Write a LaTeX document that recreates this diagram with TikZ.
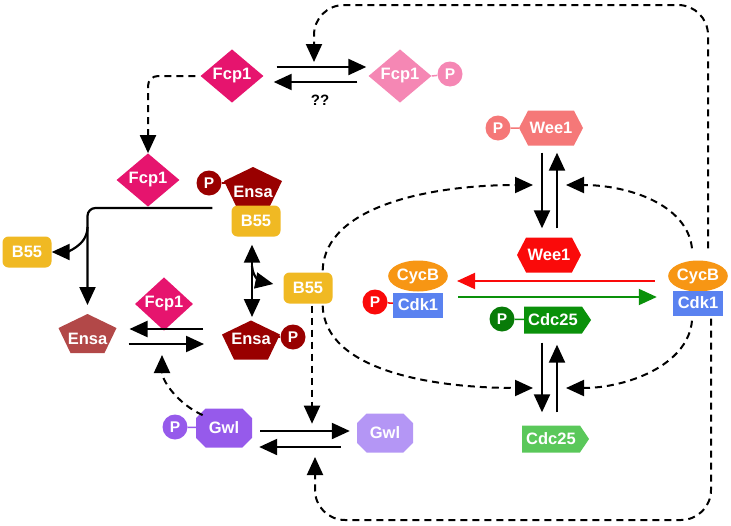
\documentclass[tikz,border=0pt]{standalone}
\usepackage{fontspec}
\setmainfont{Liberation Sans}
\usepackage{xcolor}
\usepackage{tikz}
\definecolor{fcpdark} {RGB} {230, 20, 110}
\definecolor{fcplight} {RGB} {245, 135, 180}
\definecolor{ensadark} {RGB} {153, 0, 0}
\definecolor{ensalight} {RGB} {178, 72, 72}
\definecolor{bfive} {RGB} {240, 185, 35}
\definecolor{weelight} {RGB} {245, 120, 120}
\definecolor{weedark} {RGB} {250, 10, 10}
\definecolor{cycbcol} {RGB} {247, 150, 20}
\definecolor{cdkcol} {RGB} {90, 130, 240}
\definecolor{cdcdark} {RGB} {10, 145, 10}
\definecolor{cdclight} {RGB} {90, 200, 90}
\definecolor{gwldark} {RGB} {150, 90, 235}
\definecolor{gwllight} {RGB} {180, 150, 245}
\usetikzlibrary{shapes.geometric,shapes.misc,shapes.symbols}
\usetikzlibrary{arrows.meta,calc}
\tikzstyle{prot}=[text=white, inner sep=0pt, font=\bfseries\fontsize{16.5}{18}\selectfont]
\tikzstyle{fcp}=[prot, diamond, minimum width=63pt, minimum height=46pt]
\tikzstyle{bbox}=[prot, fill=bfive, rounded corners=6pt, minimum width=49pt, minimum height=31pt]
\tikzstyle{weebox}=[prot, signal, signal to=east and west, signal pointer angle=125, minimum width=64pt, minimum height=35pt]
\tikzstyle{cdcbox}=[prot, signal, signal to=east, signal pointer angle=112, minimum width=67pt, minimum height=27pt]
\tikzstyle{gwlbox}=[prot, chamfered rectangle, chamfered rectangle xsep=10pt, minimum width=56pt, minimum height=39pt]
\tikzstyle{cycbox}=[prot, ellipse, fill=cycbcol, minimum width=58pt, minimum height=31pt]
\tikzstyle{cdkbox}=[prot, rectangle, fill=cdkcol, minimum width=50pt, minimum height=25pt]
\tikzstyle{phos}=[prot, circle, minimum size=25pt, font=\bfseries\fontsize{15.5}{18}\selectfont]
\tikzstyle{rxn}=[-{Triangle[length=18pt,width=16pt]}, line width=2.2pt]
\tikzstyle{dreg}=[-{Triangle[length=18pt,width=16pt]}, line width=2pt, dash pattern=on 7pt off 5pt]
\tikzset{pent/.pic={\fill[#1] (0,-19.5) -- (29,-5.5) -- (17,19.5) -- (-17,19.5) -- (-29,-5.5) -- cycle;}}

\begin{document}
\begin{tikzpicture}[x=1pt, y=-1pt]
  \useasboundingbox (0,0) rectangle (731,525);
  % Fcp1 at the top
  \node[fcp, fill=fcpdark] (fcpa) at (232,76) {Fcp1};
  \node[fcp, fill=fcplight] (fcpp) at (400,76) {Fcp1};
  \node[phos, fill=fcplight] (fcppP) at (450,74) {P};
  \draw[fcplight, line width=1.5pt] (fcpp.east) -- (fcppP);
  \node[font=\bfseries\fontsize{15}{18}\selectfont] (qq) at (320,100) {??};
  \draw[rxn] ($(fcpa.east)+(13,-9)$) -- ($(fcpp.west)+(-2,-9)$);
  \draw[rxn] ($(fcpp.west)+(-11,6)$) -- ($(fcpa.east)+(10,6)$);
  \node[fcp, fill=fcpdark] (fcpb) at (148,180) {Fcp1};
  \draw[dreg, rounded corners=10pt, shorten <=5pt] (fcpa.west) -| (fcpb.north);

  % Ensa and B55
  \pic at (253,186.5) {pent=ensadark};
  \node[prot] (ensaa) at (253,192) {Ensa};
  \node[phos, fill=ensadark] (ensaaP) at (209,183) {P};
  \draw[ensadark, line width=1.5pt] (ensaaP) -- ++(18,0);
  \node[bbox] (b55a) at (256,221) {B55};
  \node[bbox] (b55b) at (27,252) {B55};
  \pic at (87.5,333.5) {pent=ensalight};
  \node[prot] (ensab) at (87.5,339) {Ensa};
  \node[fcp, fill=fcpdark, minimum width=58pt, minimum height=44pt] (fcpc) at (164,304) {Fcp1};
  \pic at (251,340) {pent=ensadark};
  \node[prot] (ensac) at (251,339) {Ensa};
  \node[phos, fill=ensadark] (ensacP) at (293,337) {P};
  \draw[ensadark, line width=1.5pt] (ensacP) -- ++(-16,0);
  \node[bbox] (b55c) at (308,288) {B55};
  \draw[rxn, rounded corners=8pt] ($(b55a.west)+(-19,-13)$) -| ($(ensab)+(0,-34)$);
  \draw[rxn] ($(ensab)+(0,-112)$) .. controls +(0,20) and +(12,0) .. (b55b.east);
  \draw[rxn] ($(ensac)+(-48,-10)$) -- ($(ensab)+(42,-10)$);
  \draw[rxn] ($(ensab)+(41,5)$) -- ($(ensac)+(-47,5)$);
  \draw[rxn, {Triangle[length=18pt,width=16pt]}-{Triangle[length=18pt,width=16pt]}] ($(b55a.south)+(-4,8)$) -- ($(ensac)+(1,-22)$);
  \draw[rxn] ($(ensac)+(1,-73)$) .. controls +(1,14) and +(-10,-2) .. ($(b55c.west)+(-10,-4)$);

  % Gwl
  \node[gwlbox, fill=gwldark] (gwla) at (224,428) {Gwl};
  \node[phos, fill=gwldark] (gwlaP) at (175,427) {P};
  \draw[gwldark, line width=1.5pt] (gwlaP) -- (gwla);
  \node[gwlbox, fill=gwllight] (gwlb) at (385,433) {Gwl};
  \draw[rxn] ($(gwla.east)+(8,3)$) -- ($(gwlb.west)+(-7,-2)$);
  \draw[rxn] ($(gwlb.west)+(-16,14)$) -- ($(gwla.east)+(7,19)$);
  \coordinate (ensamid) at (162,355);
  \draw[dreg] ($(gwla.north west)+(2,2)$) .. controls +(-26,-12) and +(0,25) .. (ensamid);
  \draw[dreg] ($(b55c.south)+(4,2)$) -- ++(0,118);

  % Wee1, Cdc25 and CycB-Cdk1
  \node[weebox, fill=weelight] (weea) at (551,128) {Wee1};
  \node[phos, fill=weelight] (weeaP) at (498,128) {P};
  \draw[weelight, line width=1.5pt] (weeaP) -- (weea);
  \node[weebox, fill=weedark] (weeb) at (549,255) {Wee1};
  \draw[rxn] ($(weea.south)+(-9,7)$) -- ($(weeb.north)+(-7,-9)$);
  \draw[rxn] ($(weeb.north)+(8,-9)$) -- ($(weea.south)+(6,7)$);
  \node[cdcbox, fill=cdcdark] (cdca) at (553,320) {Cdc25};
  \node[phos, fill=cdcdark!85!black] (cdcaP) at (502,319) {P};
  \draw[cdcdark, line width=1.5pt] (cdcaP) -- (cdca);
  \node[cdcbox, fill=cdclight] (cdcb) at (551,439) {Cdc25};
  \draw[rxn] ($(cdca.south)+(-11,9)$) -- ($(cdcb.north)+(-9,-13)$);
  \draw[rxn] ($(cdcb.north)+(6,-13)$) -- ($(cdca.south)+(4,11)$);
  \node[cycbox] (cycba) at (418,276) {CycB};
  \node[cdkbox] (cdka) at (418,305) {Cdk1};
  \node[phos, fill=weedark] (cdkaP) at (375,302) {P};
  \draw[weedark, line width=1.5pt] (cdkaP) -- (cdka);
  \node[cycbox] (cycbb) at (698,276) {CycB};
  \node[cdkbox] (cdkb) at (698,303) {Cdk1};
  \draw[rxn, weedark, line width=2pt] ($(cycbb.west)+(-13,5)$) -- ($(cycba.east)+(9,5)$);
  \draw[rxn, cdcdark, line width=2pt] ($(cdka.east)+(15,-8)$) -- ($(cdkb.west)+(-16,-6)$);
  \coordinate (weemidL) at (533,185);
  \coordinate (weemidR) at (566,185);
  \coordinate (cdcmidL) at (533,388);
  \coordinate (cdcmidR) at (566,388);
  \draw[dreg] ($(b55c.north east)+(-10,-2)$) .. controls +(2,-65) and +(-100,0) .. (weemidL);
  \draw[dreg] ($(b55c.south east)+(-10,2)$) .. controls +(2,65) and +(-100,0) .. (cdcmidL);
  \draw[dreg] ($(cycbb.north)+(-6,-12)$) .. controls +(-5,-45) and +(60,0) .. (weemidR);
  \draw[dreg] ($(cdkb.south)+(-6,5)$) .. controls +(-4,45) and +(60,0) .. (cdcmidR);

  % long loops round the right side
  \coordinate (topmid) at (314,62);
  \coordinate (gwlmid) at (315,457);
  \draw[dreg, rounded corners=30pt] ($(cycbb.north)+(10,-12)$) |- ([yshift=57pt]topmid) -- (topmid);
  \draw[dreg, rounded corners=30pt] ($(cdkb.south)+(13,3)$) |- ([yshift=-63pt]gwlmid) -- (gwlmid);
\end{tikzpicture}
\end{document}
